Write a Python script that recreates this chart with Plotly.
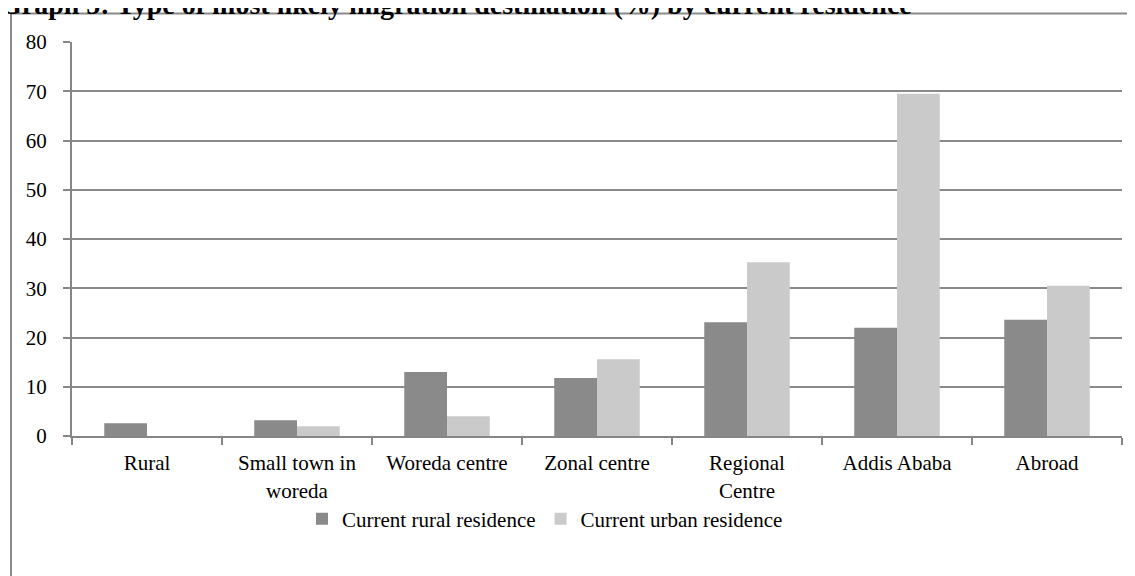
import plotly.graph_objects as go

categories = ["Rural", "Small town in<br>woreda", "Woreda centre", "Zonal centre",
              "Regional<br>Centre", "Addis Ababa", "Abroad"]
rural_values = [2.6, 3.2, 13.0, 11.8, 23.1, 22.0, 23.6]
urban_values = [0.0, 2.0, 4.0, 15.6, 35.3, 69.5, 30.5]
series_names = ["Current rural residence", "Current urban residence"]
y_ticks = [0, 10, 20, 30, 40, 50, 60, 70, 80]

# page has an 8px body margin; work in page pixels and convert
OFF = 8
W, H = 1135, 576
PL, PR, PT, PB = 72, 1122, 42, 436  # plot area in page pixels
L = PL - OFF
T = PT - OFF
R = W - (PR - OFF)
B = H - (PB - OFF)
pw, ph = W - L - R, H - T - B

def px_x(p):
    return (p - OFF - L) / pw

def px_y(p):
    return (H - B - (p - OFF)) / ph

FAM = "Liberation Serif, Times New Roman, serif"
font = dict(family=FAM, size=21, color="#000000")
border = dict(color="#8a8a8a", width=2)

fig = go.Figure()
fig.add_trace(go.Bar(x=categories, y=rural_values, name=series_names[0],
                     marker=dict(color="#8a8a8a", line=dict(width=0))))
fig.add_trace(go.Bar(x=categories, y=urban_values, name=series_names[1],
                     marker=dict(color="#cacaca", line=dict(width=0))))

fig.update_layout(
    width=W, height=H,
    margin=dict(l=L, r=R, t=T, b=B, autoexpand=False),
    paper_bgcolor="white", plot_bgcolor="white",
    font=font,
    barmode="group", bargap=0.43, bargroupgap=0,
    showlegend=True,
    legend=dict(orientation="h", x=px_x(545), xanchor="center", y=px_y(519), yanchor="middle",
                font=font, itemwidth=30, traceorder="normal", tracegroupgap=0),
    xaxis=dict(showgrid=False, showline=True, linecolor="#868686", linewidth=2,
               ticks="outside", tickson="boundaries", ticklen=7, tickcolor="#868686",
               tickwidth=1.5, tickfont=font, ticklabelstandoff=7),
    yaxis=dict(range=[0, 80], tickvals=y_ticks, showgrid=True, gridcolor="#8a8a8a",
               gridwidth=1.5, showline=True, linecolor="#868686", linewidth=2,
               ticks="outside", ticklen=7, tickcolor="#868686", tickwidth=1.5,
               tickfont=font, zeroline=False, ticklabelstandoff=12),
    shapes=[
        dict(type="line", xref="paper", yref="paper",
             x0=px_x(11), x1=px_x(1140), y0=px_y(13.5), y1=px_y(13.5), line=border, layer="below"),
        dict(type="line", xref="paper", yref="paper",
             x0=px_x(11), x1=px_x(11), y0=px_y(13.5), y1=px_y(580), line=border, layer="below"),
    ],
    annotations=[dict(text="<b>Graph 5: Type of most likely migration destination (%) by current residence</b>",
                      xref="paper", yref="paper", x=px_x(-2), y=px_y(22), xanchor="left",
                      yanchor="bottom", showarrow=False,
                      font=dict(family=FAM, size=28, color="#000"))],
)

fig.write_html("out.html")
